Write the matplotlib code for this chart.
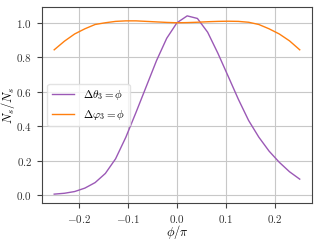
import matplotlib
matplotlib.use("Agg")
import matplotlib.pyplot as plt
import numpy as np

# phi / pi sample positions
PHI = np.linspace(-0.25, 0.25, 25)

THETA_VALUES = [0.005, 0.010, 0.020, 0.040, 0.072, 0.125, 0.210, 0.335, 0.480,
                0.630, 0.780, 0.910, 1.000, 1.040, 1.025, 0.945, 0.823, 0.690,
                0.556, 0.433, 0.336, 0.255, 0.190, 0.135, 0.092]

VARPHI_VALUES = [0.843, 0.893, 0.935, 0.965, 0.990, 1.000, 1.008, 1.011, 1.011,
                 1.008, 1.005, 1.002, 1.000, 1.001, 1.003, 1.006, 1.008, 1.009,
                 1.008, 1.003, 0.990, 0.965, 0.935, 0.895, 0.843]

LABEL_THETA = r"$\Delta\theta_3 = \phi$"
LABEL_VARPHI = r"$\Delta\varphi_3 = \phi$"

XLABEL = r"$\phi/\pi$"
YLABEL = r"$\tilde{N}_s/N_s$"


def main():
    plt.rcParams["font.family"] = "cmr10"
    plt.rcParams["mathtext.fontset"] = "cm"
    plt.rcParams["axes.formatter.use_mathtext"] = True
    plt.rcParams["font.size"] = 8

    fig = plt.figure(figsize=(3.2, 2.4), dpi=100)
    ax = fig.add_axes([0.131, 0.154, 0.844, 0.817])

    ax.plot(PHI, THETA_VALUES, color="#9b59b6", lw=1.0, label=LABEL_THETA)
    ax.plot(PHI, VARPHI_VALUES, color="#ff7f0e", lw=1.0, label=LABEL_VARPHI)

    ax.set_xticks([-0.2, -0.1, 0.0, 0.1, 0.2])
    ax.set_yticks([0.0, 0.2, 0.4, 0.6, 0.8, 1.0])
    ax.grid(True, color="#c8c8c8", lw=0.8)
    ax.set_axisbelow(True)

    for spine in ax.spines.values():
        spine.set_color("#444444")
    ax.tick_params(colors="#444444", labelcolor="#333333", length=3.5)

    ax.set_xlabel(XLABEL, fontsize=9)
    ax.set_ylabel(YLABEL, fontsize=9)
    ax.xaxis.set_label_coords(0.5, -0.1)
    ax.yaxis.set_label_coords(-0.09, 0.5)

    ax.legend(loc="center left", fontsize=8, framealpha=0.8, edgecolor="#dddddd")

    fig.savefig("out.png", dpi=100)


if __name__ == "__main__":
    main()
